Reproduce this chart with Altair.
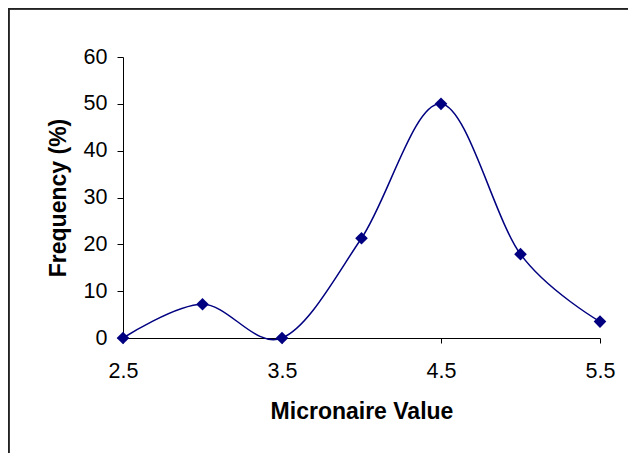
import altair as alt
import pandas as pd

micronaire = [2.5, 3.0, 3.5, 4.0, 4.5, 5.0, 5.5]
frequency = [0.0, 7.2, 0.0, 21.3, 50.0, 17.9, 3.5]
x_ticks = [2.5, 3.5, 4.5, 5.5]
y_ticks = [0, 10, 20, 30, 40, 50, 60]

df = pd.DataFrame({"Micronaire": micronaire, "Frequency": frequency})

NAVY = "#000080"
FONT = "Liberation Sans"

x_enc = alt.X(
    "Micronaire:Q",
    scale=alt.Scale(domain=[2.5, 5.5], nice=False, zero=False),
    axis=alt.Axis(
        values=x_ticks, format=".1f", title="Micronaire Value",
        grid=False, domainColor="black", tickColor="black", tickSize=5,
        labelFont=FONT, labelFontSize=21.5, labelColor="black", labelPadding=17,
        labelFlush=False,
        titleFont=FONT, titleFontSize=23, titleFontWeight="bold", titleColor="black",
        titleBaseline="top", titleY=62,
    ),
)
y_enc = alt.Y(
    "Frequency:Q",
    scale=alt.Scale(domain=[0, 60], nice=False),
    axis=alt.Axis(
        values=y_ticks, title="Frequency (%)",
        grid=False, domainColor="black", tickColor="black", tickSize=6,
        labelFont=FONT, labelFontSize=21.5, labelColor="black", labelPadding=10,
        labelFlush=False,
        titleFont=FONT, titleFontSize=23, titleFontWeight="bold", titleColor="black",
        titleAngle=270, titleBaseline="top", titleAlign="center",
        titleX=-76, titleY=140.5,
    ),
)

line = alt.Chart(df).mark_line(
    interpolate="cardinal", color=NAVY, strokeWidth=1.5
).encode(x=x_enc, y=y_enc)

pts = alt.Chart(df).mark_point(
    shape="diamond", filled=True, color=NAVY, size=160, opacity=1
).encode(x="Micronaire:Q", y="Frequency:Q")

frame_top = alt.Chart(df).mark_rule(color="#222222", strokeWidth=1.5).encode(
    x=alt.value(-114.5), x2=alt.value(520), y=alt.value(-48.5)
)
frame_left = alt.Chart(df).mark_rule(color="#222222", strokeWidth=1.5).encode(
    x=alt.value(-114.5), y=alt.value(-48.5), y2=alt.value(400)
)

chart = alt.layer(frame_top, frame_left, line, pts).properties(
    width=477, height=281,
    autosize=alt.AutoSizeParams(type="none"),
    padding={"left": 115, "top": 49, "right": 28, "bottom": 115},
).configure(background="white").configure_view(strokeWidth=0, stroke=None)

chart.save("out.html", embed_options={"renderer": "svg", "actions": False})
